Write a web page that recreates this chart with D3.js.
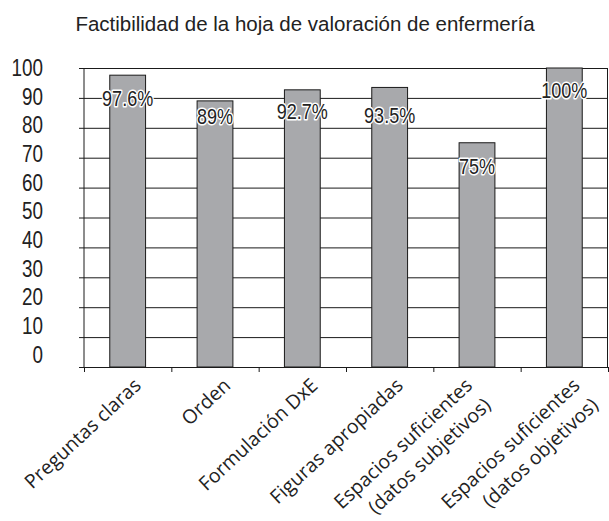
<!DOCTYPE html>
<html>
<head>
<meta charset="utf-8">
<script src="https://cdn.jsdelivr.net/npm/d3@7"></script>
<style>
    body { margin: 0; background: white; }
    .canvas { width: 609px; height: 521px; }
    .axis path { display: none; }
    .axis line { stroke: #1a1a1a; }
    .tick-label text { font-family: "Liberation Sans", Arial, sans-serif; font-size: 23px; fill: #222; }
</style>
</head>
<body>
<div id="canvas-div" class="canvas"></div>
<script>
const categories = [
    "Preguntas claras",
    "Orden",
    "Formulación DxE",
    "Figuras apropiadas",
    "Espacios suficientes\n(datos subjetivos)",
    "Espacios suficientes\n(datos objetivos)"
];
const values = [97.6, 89, 92.7, 93.5, 75, 100];
const valueLabels = ["97.6%", "89%", "92.7%", "93.5%", "75%", "100%"];
const yTicks = [0, 10, 20, 30, 40, 50, 60, 70, 80, 90, 100];
const title = "Factibilidad de la hoja de valoración de enfermería";

const padding = {
    left: 84,
    right: 1,
    top: 68,
    bottom: 154
};

const svgWidth = 609;
const svgHeight = 521;
// no narrow font installed, so squeeze Liberation Sans like Arial Narrow
const narrow = 0.82;
const narrowFont = "'Liberation Sans', Arial, sans-serif";
// hand nudges of the labels, as in the original
const catLabelShift = [10, 12, 12, 10, -8, 12];
const valueLabelDrop = [31, 23, 29, 36, 31, 30];

let svg = d3.select("#canvas-div")
    .append("svg")
    .attr("width", svgWidth)
    .attr("height", svgHeight)
    .style("background-color", "white");

const plotRight = svgWidth - padding.right;
const plotBottom = svgHeight - padding.bottom;

const xScale = d3.scaleBand()
    .domain(categories)
    .range([padding.left, plotRight])
    .paddingInner(0.59)
    .paddingOuter(0.295);

// band edges, for the x tick marks
const xEdge = d3.scaleLinear()
    .domain([0, categories.length])
    .range([padding.left, plotRight]);

const yScale = d3.scaleLinear()
    .domain([0, 100])
    .range([plotBottom, padding.top]);

// the tick labels sit a bit off the grid in the original
const yLabelScale = d3.scaleLinear()
    .domain([0, 100])
    .range([plotBottom - 12, padding.top]);

//title
svg.append("text")
    .attr("x", 305)
    .attr("y", 31)
    .attr("text-anchor", "middle")
    .style("font-family", narrowFont)
    .style("font-size", "20.5px")
    .attr("fill", "#222")
    .text(title);

//grid
svg.append("g")
    .attr("class", "axis grid")
    .attr("transform", "translate(" + padding.left + ",0)")
    .call(d3.axisLeft(yScale)
        .tickValues(yTicks)
        .tickSize(-(plotRight - padding.left))
        .tickFormat(""));

//y ticks
svg.append("g")
    .attr("class", "axis")
    .attr("transform", "translate(" + padding.left + ",0)")
    .call(d3.axisLeft(yScale)
        .tickValues(yTicks)
        .tickSize(5)
        .tickFormat(""));

svg.append("g")
    .attr("class", "axis tick-label")
    .attr("transform", "translate(43,0)")
    .call(d3.axisLeft(yLabelScale)
        .tickValues(yTicks)
        .tickSize(0)
        .tickPadding(0))
    .selectAll("text")
    .attr("transform", "scale(" + narrow + ",1)");

//x ticks
svg.append("g")
    .attr("class", "axis")
    .attr("transform", "translate(0," + plotBottom + ")")
    .call(d3.axisBottom(xEdge)
        .ticks(categories.length)
        .tickSize(5)
        .tickFormat(""));

//frame sides
svg.append("line")
    .attr("x1", padding.left).attr("x2", padding.left)
    .attr("y1", padding.top).attr("y2", plotBottom)
    .attr("stroke", "#1a1a1a");
svg.append("line")
    .attr("x1", plotRight - 0.5).attr("x2", plotRight - 0.5)
    .attr("y1", padding.top).attr("y2", plotBottom)
    .attr("stroke", "#1a1a1a");

//bars
svg.selectAll(".bar")
    .data(values)
    .enter()
    .append("rect")
    .attr("class", "bar")
    .attr("x", (d, i) => xScale(categories[i]))
    .attr("y", d => yScale(d))
    .attr("width", xScale.bandwidth())
    .attr("height", d => plotBottom - yScale(d))
    .attr("fill", "#a8a9ac")
    .attr("stroke", "#1a1a1a")
    .attr("stroke-width", 1);

//value labels
svg.selectAll(".annotation")
    .data(values)
    .enter()
    .append("text")
    .attr("class", "annotation")
    .attr("transform", (d, i) => "translate(" + (xScale(categories[i]) + xScale.bandwidth() / 2) + "," + (yScale(d) + valueLabelDrop[i]) + ") scale(" + narrow + ",1)")
    .attr("text-anchor", "middle")
    .style("font-family", narrowFont)
    .style("font-size", "22px")
    .attr("fill", "#222")
    .attr("stroke", "white")
    .attr("stroke-width", 3)
    .attr("paint-order", "stroke")
    .attr("stroke-linejoin", "round")
    .text((d, i) => valueLabels[i]);

//category labels
let catLabels = svg.selectAll(".cat-label")
    .data(categories)
    .enter()
    .append("text")
    .attr("class", "cat-label")
    .attr("transform", (d, i) => "translate(" + (xScale(d) + xScale.bandwidth() / 2 + catLabelShift[i]) + "," + (plotBottom + 15) + ") rotate(-43)")
    .attr("text-anchor", "end")
    .style("font-family", "'Open Sans', sans-serif")
    .style("font-size", "19.5px")
    .attr("fill", "#222");

catLabels.selectAll("tspan")
    .data(d => d.split("\n"))
    .enter()
    .append("tspan")
    .attr("x", 0)
    .attr("dy", (d, i) => i === 0 ? "0.35em" : "1.38em")
    .text(d => d);
</script>
</body>
</html>
